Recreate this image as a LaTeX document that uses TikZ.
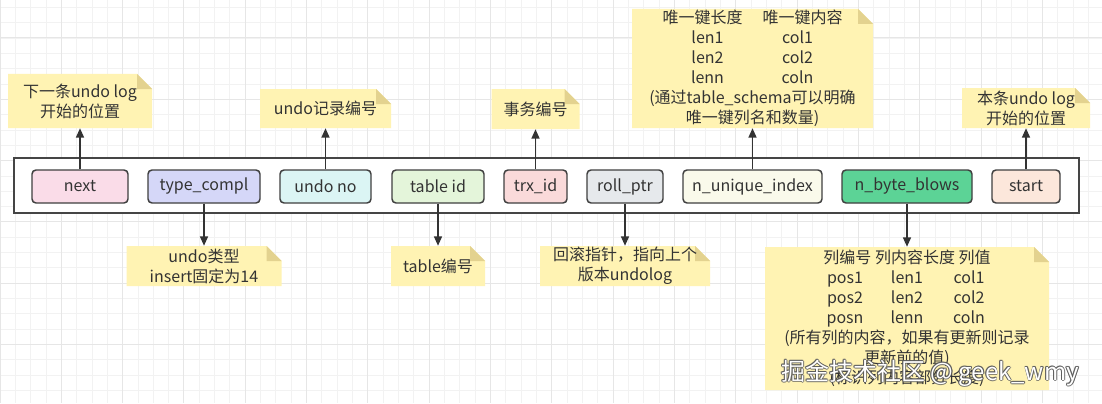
\documentclass[tikz,border=0pt]{standalone}
\usepackage{fontspec}
\setmainfont{Noto Sans CJK SC}
\usetikzlibrary{arrows.meta}
\definecolor{txt}{HTML}{333333}
\definecolor{bord}{HTML}{3F3F3F}
\definecolor{outerc}{HTML}{454545}
\definecolor{gridmin}{HTML}{F2F2F2}
\definecolor{gridmaj}{HTML}{E6E6E6}
\definecolor{notefill}{HTML}{FFF3B3}
\definecolor{foldfill}{HTML}{E3D28F}
\definecolor{cnext}{HTML}{FADCE8}
\definecolor{ctype}{HTML}{D5D7F8}
\definecolor{cundo}{HTML}{DBF5F4}
\definecolor{ctable}{HTML}{E4F5DA}
\definecolor{ctrx}{HTML}{FADADA}
\definecolor{croll}{HTML}{E6E9EC}
\definecolor{cuniq}{HTML}{FAFAEB}
\definecolor{cbyte}{HTML}{5CD396}
\definecolor{cstart}{HTML}{FCE7DB}
\definecolor{wmshadow}{HTML}{5A5A5A}
\newcommand\ff{\fontsize{12pt}{15pt}\selectfont}
\begin{document}
\begin{tikzpicture}[x=0.75pt,y=-0.75pt,
  field/.style 2 args={draw=bord, line width=1.1pt, rounded corners=3pt, fill=#1,
    minimum width={#2*0.75pt}, minimum height=24.75pt, inner sep=0pt, font=\ff, text=txt},
  notebox/.style 2 args={draw=none, inner sep=0pt, align=center, text=txt, font=\ff,
    minimum width={#1*0.75pt}, minimum height={#2*0.75pt},
    path picture={
      \fill[notefill] (path picture bounding box.south west) -- (path picture bounding box.north west)
        -- ([xshift=-11.25pt]path picture bounding box.north east)
        -- ([yshift=-11.25pt]path picture bounding box.north east)
        -- (path picture bounding box.south east) -- cycle;
      \fill[foldfill] ([xshift=-11.25pt]path picture bounding box.north east)
        -- ([yshift=-11.25pt]path picture bounding box.north east)
        -- ([xshift=-11.25pt,yshift=-11.25pt]path picture bounding box.north east) -- cycle;
    }},
  conn/.style={draw=txt, line width=1.1pt, -{Triangle[length=7pt,width=6pt]}},
  wm/.style={font=\fontsize{18pt}{20pt}\selectfont, inner sep=0pt}
]
\useasboundingbox (0,0) rectangle (1102,403);
\fill[white] (0,0) rectangle (1102,403);
% grid
\foreach \i in {0,...,72} \draw[gridmin, line width=0.7pt] ({\i*15.33},0) -- ({\i*15.33},403);
\foreach \j in {-3,...,24} \draw[gridmin, line width=0.7pt] (0,{38+\j*15.33}) -- (1102,{38+\j*15.33});
\foreach \i in {0,...,18} \draw[gridmaj, line width=0.75pt] ({\i*61.33},0) -- ({\i*61.33},403);
\foreach \j in {-1,...,6} \draw[gridmaj, line width=0.75pt] (0,{38+\j*61.33}) -- (1102,{38+\j*61.33});

% outer record
\node[draw=outerc, line width=1.5pt, fill=white, minimum width={1065*0.75pt}, minimum height={55*0.75pt}, inner sep=0pt] (rec) at (546.5,185.5) {};

% fields
\node[field={cnext}{96}] (next) at (80,186.5) {next};
\node[field={ctype}{112}] (type) at (204,186.5) {type\_compl};
\node[field={cundo}{91}] (undono) at (325.5,186.5) {undo no};
\node[field={ctable}{92}] (tableid) at (438,186.5) {table id};
\node[field={ctrx}{63}] (trx) at (535.5,186.5) {trx\_id};
\node[field={croll}{76}] (roll) at (625,186.5) {roll\_ptr};
\node[field={cuniq}{139}] (uniq) at (752.5,186.5) {n\_unique\_index};
\node[field={cbyte}{130}] (byte) at (907,186.5) {n\_byte\_blows};
\node[field={cstart}{68}] (start) at (1026,186.5) {start};

% notes top
\node[notebox={144}{54}] (n1) at (80,101) {下一条undo log\\开始的位置};
\node[notebox={131}{39}] (n2) at (325.5,108.5) {undo记录编号};
\node[notebox={88}{40}] (n3) at (535.5,109) {事务编号};
\node[notebox={241}{119}] (n4) at (752.5,68.5) {\makebox[75pt]{唯一键长度}\makebox[75pt]{唯一键内容}\\
  \makebox[67.5pt]{len1}\makebox[67.5pt]{col1}\\
  \makebox[67.5pt]{len2}\makebox[67.5pt]{col2}\\
  \makebox[67.5pt]{lenn}\makebox[67.5pt]{coln}\\
  (通过table\_schema可以明确\\唯一键列名和数量)};
\node[notebox={128}{40}] (n5) at (1026,108) {本条undo log\\开始的位置};

% notes bottom
\node[notebox={155}{40}] (n6) at (204,266) {undo类型\\insert固定为14};
\node[notebox={94}{40}] (n7) at (438,266) {table编号};
\node[notebox={170}{40}] (n8) at (625,266) {回滚指针，指向上个\\版本undolog};
\node[notebox={284}{143}] (n9) at (907,318.5) {列编号 列内容长度 列值\\
  \makebox[46.5pt]{pos1}\makebox[46.5pt]{len1}\makebox[46.5pt]{col1}\\
  \makebox[46.5pt]{pos2}\makebox[46.5pt]{len2}\makebox[46.5pt]{col2}\\
  \makebox[46.5pt]{posn}\makebox[46.5pt]{lenn}\makebox[46.5pt]{coln}\\
  (所有列的内容，如果有更新则记录\\更新前的值)\\(标识列内容部分长度)};

% connectors
\draw[conn] (next.north) -- (n1.south);
\draw[conn] (undono.north) -- (n2.south);
\draw[conn] (trx.north) -- (n3.south);
\draw[conn] (uniq.north) -- (n4.south);
\draw[conn] (start.north) -- (n5.south);
\draw[conn] (type.south) -- (n6.north);
\draw[conn] (tableid.south) -- (n7.north);
\draw[conn] (roll.south) -- (n8.north);
\draw[conn] (byte.south) -- (n9.north);

% watermark
\foreach \dx/\dy [count=\k] in {0.7/0,-0.7/0,0/0.7,0/-0.7,0.5/0.5,-0.5/-0.5,0.5/-0.5,-0.5/0.5}
  \node[wm, text=wmshadow, opacity=0.7, xshift=\dx pt, yshift=\dy pt] (wms\k) at (930,373) {掘金技术社区 @ geek\_wmy};
\node[wm, text=white] (wmark) at (930,373) {掘金技术社区 @ geek\_wmy};
\end{tikzpicture}
\end{document}
